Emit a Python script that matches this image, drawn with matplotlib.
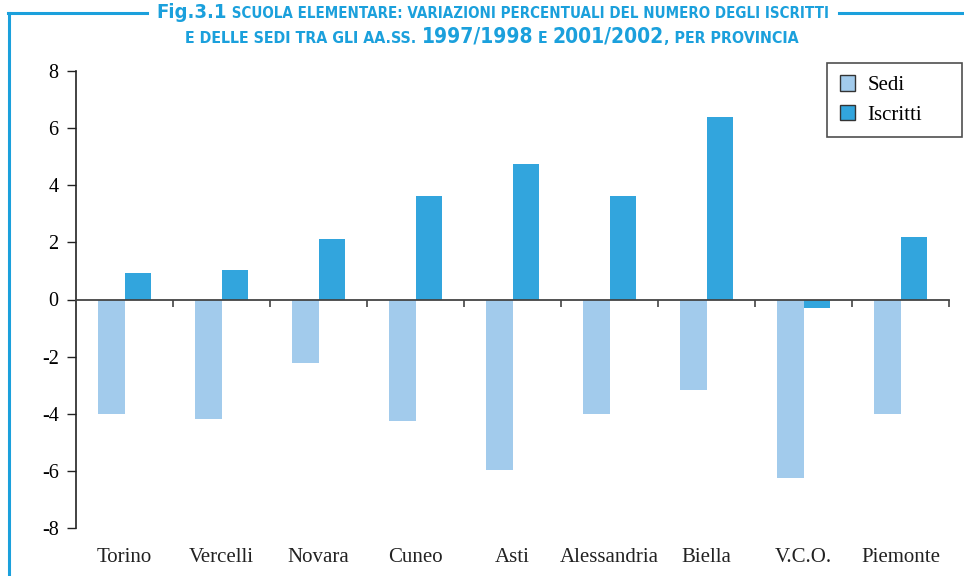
# Scuola elementare: variazioni percentuali iscritti e sedi per provincia
import matplotlib
matplotlib.use("Agg")
import matplotlib.pyplot as plt
from matplotlib.patches import Patch
from matplotlib.lines import Line2D
import numpy as np

province = ["Torino", "Vercelli", "Novara", "Cuneo", "Asti",
            "Alessandria", "Biella", "V.C.O.", "Piemonte"]
sedi = [-4.0, -4.2, -2.24, -4.27, -5.98, -4.0, -3.18, -6.26, -4.0]
iscritti = [0.94, 1.05, 2.13, 3.62, 4.76, 3.64, 6.40, -0.31, 2.2]
yticks = [-8, -6, -4, -2, 0, 2, 4, 6, 8]

col_sedi = "#a2cbec"
col_iscr = "#32a5dd"
col_title = "#1ba0dc"
serif = ["Liberation Serif", "DejaVu Serif"]

fig = plt.figure(figsize=(9.64, 5.76), dpi=100)
ax = fig.add_axes([76/964, 1-528/576, 873/964, 457/576])

x = np.arange(len(province))
w = 0.27
ax.bar(x - w/2, sedi, w, color=col_sedi, label="Sedi")
ax.bar(x + w/2, iscritti, w, color=col_iscr, label="Iscritti")

ax.set_xlim(-0.5, len(province) - 0.5)
ax.set_ylim(-8, 8)
ax.spines["top"].set_visible(False)
ax.spines["right"].set_visible(False)
ax.spines["bottom"].set_position(("data", 0))
ax.spines["bottom"].set_color("#444444")
ax.spines["bottom"].set_linewidth(1.3)
ax.spines["left"].set_color("#222222")
ax.spines["left"].set_linewidth(1.2)

ax.set_yticks(yticks)
ax.set_yticklabels([str(v) for v in yticks], fontfamily=serif, fontsize=14.5)
ax.tick_params(axis="y", length=6.5, width=1, color="#222222", pad=6)
ax.set_xticks(x + 0.5)
ax.set_xticklabels([])
ax.tick_params(axis="x", length=5, width=1.2, color="#444444")

for i, name in enumerate(province):
    ax.text(i, -0.065, name, transform=ax.get_xaxis_transform(),
            ha="center", va="center", fontfamily=serif, fontsize=15, color="#222222")

# legend box stretched to the width of the original
handles = [Patch(facecolor=col_sedi, edgecolor="#333333", label="Sedi"),
           Patch(facecolor=col_iscr, edgecolor="#333333", label="Iscritti")]
leg = fig.legend(handles=handles, loc="upper left", mode="expand",
                 bbox_to_anchor=(827/964, 1-139/576, 135/964, 76/576),
                 bbox_transform=fig.transFigure,
                 borderaxespad=0, fancybox=False, handlelength=0.75, handleheight=0.75,
                 handletextpad=0.6, borderpad=0.6, labelspacing=0.45,
                 prop={"family": serif, "size": 15})
leg.get_frame().set_edgecolor("#222222")
leg.get_frame().set_linewidth(1.2)

# frame lines round the title
fig.add_artist(Line2D([9/964, 9/964], [0, 1-13/576], color=col_title, lw=2.2,
                      transform=fig.transFigure))
fig.add_artist(Line2D([8/964, 147/964], [1-13/576, 1-13/576], color=col_title, lw=2.2,
                      transform=fig.transFigure))
fig.add_artist(Line2D([839/964, 962/964], [1-13/576, 1-13/576], color=col_title, lw=2.2,
                      transform=fig.transFigure))

# title with fake small caps, pieces laid one after another
tf = dict(family="DejaVu Sans", stretch="condensed", weight="bold", color=col_title)
line1 = [("Fig.3.1", 14.5), (" SCUOLA ELEMENTARE: VARIAZIONI PERCENTUALI DEL NUMERO DEGLI ISCRITTI", 10.8)]
line2 = [("E DELLE SEDI TRA GLI AA.SS. ", 11.4), ("1997/1998", 15), (" E ", 11.4),
         ("2001/2002", 15), (", PER PROVINCIA", 11.4)]

fig.canvas.draw()
r = fig.canvas.get_renderer()

def place(pieces, xc, ybase):
    texts = [fig.text(0, 1 - ybase/576, t, fontsize=s, va="baseline", ha="left", **tf)
             for t, s in pieces]
    widths = [t.get_window_extent(r).width for t in texts]
    xpix = xc - sum(widths)/2
    for t, wd in zip(texts, widths):
        t.set_x(xpix / 964)
        xpix += wd

place(line1, 493, 17.5)
place(line2, 492, 43)

fig.savefig("out.png", dpi=100)
